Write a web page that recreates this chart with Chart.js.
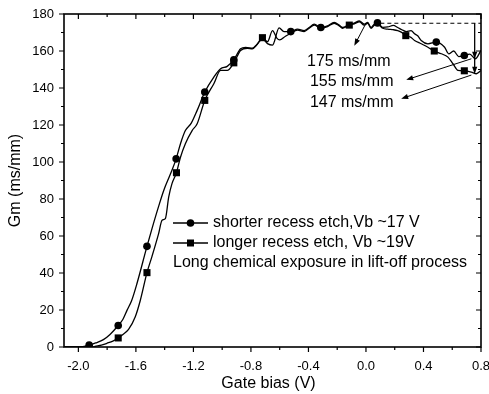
<!DOCTYPE html>
<html>
<head>
<meta charset="utf-8">
<script src="https://cdn.jsdelivr.net/npm/chart.js@4"></script>
<style>
  body { margin: 0; background: #fff; }
  #wrap { width: 489px; height: 394px; }
</style>
</head>
<body>
<div id="wrap"><canvas id="gmChart" width="489" height="394"></canvas></div>
<script>
// shorter recess etch, Vb ~17 V (circle curve)
const shortGate = [-2.1, -2.0, -1.96, -1.925, -1.88, -1.826, -1.78, -1.723, -1.69, -1.662, -1.63, -1.593, -1.523,
  -1.488, -1.442, -1.407, -1.36, -1.32, -1.29, -1.256, -1.215, -1.174, -1.121, -1.058, -1.011, -0.965, -0.919,
  -0.872, -0.837, -0.79, -0.757, -0.72, -0.685, -0.65, -0.604, -0.57, -0.523, -0.476, -0.43, -0.395, -0.36,
  -0.314, -0.267, -0.221, -0.186, -0.163, -0.116, -0.081, -0.046, -0.012, 0.012, 0.035, 0.058, 0.08, 0.117,
  0.152, 0.19, 0.221, 0.25, 0.28, 0.314, 0.338, 0.36, 0.384, 0.431, 0.489, 0.547, 0.575, 0.61, 0.645, 0.684,
  0.722, 0.76, 0.8];
const shortGm = [0, 0, 0.3, 1, 2.2, 4, 6.8, 11.6, 15, 19.8, 25, 34.2, 54.4,
  64, 76, 84.5, 93.5, 101.7, 109.9, 117, 121, 127.9, 137.8, 145.9, 150.4, 151.7, 155.3,
  161.2, 162, 161.5, 163.7, 166.5, 164, 163.2, 172.5, 170.5, 170.5, 171.8, 171, 172.7, 174.5,
  172.7, 173.6, 175.4, 174, 172.7, 174.3, 175.1, 176.3, 174.5, 175.4, 172.7, 174.5, 175.2, 172.8,
  173, 173.8, 172.7, 171.5, 170.5, 171, 169.3, 168.2, 165.7, 163.9, 164.8, 162, 158.5, 160, 157, 157.6,
  158.3, 155.8, 160.3];

// longer recess etch, Vb ~19 V (square curve)
const longGate = [-2.1, -1.9, -1.884, -1.84, -1.802, -1.76, -1.723, -1.69, -1.651, -1.605, -1.57, -1.523,
  -1.488, -1.442, -1.418, -1.395, -1.372, -1.349, -1.318, -1.29, -1.256, -1.209, -1.174, -1.121, -1.058,
  -1.011, -0.965, -0.919, -0.872, -0.825, -0.79, -0.757, -0.72, -0.685, -0.65, -0.62, -0.6, -0.56, -0.523,
  -0.476, -0.43, -0.395, -0.36, -0.314, -0.267, -0.221, -0.186, -0.163, -0.116, -0.081, -0.046, -0.012,
  0.012, 0.035, 0.058, 0.08, 0.117, 0.152, 0.19, 0.221, 0.245, 0.277, 0.31, 0.338, 0.384, 0.431, 0.475,
  0.524, 0.57, 0.605, 0.64, 0.684, 0.733, 0.768, 0.8];
const longGm = [0, 0, 0.3, 1, 2, 3.2, 4.9, 6.8, 9.5, 16.2, 25, 40.2,
  49, 61.3, 68.5, 69.4, 81, 88.3, 94.2, 102.6, 109.9, 117, 120.7, 133.3, 142.3,
  149.5, 149.5, 153.6, 160.3, 161.5, 161.2, 163.5, 167.2, 165, 171, 167, 166, 168, 169.6,
  171.3, 170.5, 172.3, 174, 172.3, 173.2, 175, 173.6, 172.3, 174, 174.7, 175.8, 174,
  175, 172.3, 174, 174.6, 172.3, 171.8, 171.5, 171, 170.2, 168.3, 167.5, 165.7, 163.9, 162, 160,
  158.5, 156.7, 153.1, 149.5, 149.3, 148.6, 147.7, 149.5];

// symbols drawn on the curves
const shortMarkGate = [-1.925, -1.723, -1.523, -1.32, -1.121, -0.919, -0.523, -0.314, 0.08, 0.489, 0.684];
const shortMarkGm = [1, 11.6, 54.4, 101.7, 137.8, 155.3, 170.5, 172.7, 175.2, 164.8, 157.6];
const longMarkGate = [-1.723, -1.523, -1.318, -1.121, -0.919, -0.72, -0.116, 0.277, 0.475, 0.684];
const longMarkGm = [4.9, 40.2, 94.2, 133.3, 153.6, 167.2, 174, 168.3, 160, 149.3];

const xMajor = [-2.0, -1.6, -1.2, -0.8, -0.4, 0.0, 0.4, 0.8];
const xMinor = [-1.8, -1.4, -1.0, -0.6, -0.2, 0.2, 0.6];
const yMajor = [0, 20, 40, 60, 80, 100, 120, 140, 160, 180];
const yMinor = [10, 30, 50, 70, 90, 110, 130, 150, 170];

// annotated values (ms/mm)
const peakGm = 175, shortEndGm = 155, longEndGm = 147;
const legendLabels = ['shorter recess etch,Vb ~17 V', 'longer recess etch, Vb ~19V'];
const legendNote = 'Long chemical exposure in lift-off process';

const FONT = '"Liberation Sans", Arial, sans-serif';
const toPts = (xs, ys) => xs.map((x, i) => ({x: x, y: ys[i]}));

function arrow(ctx, x1, y1, x2, y2) {
  const ang = Math.atan2(y2 - y1, x2 - x1), L = 7, W = 2.6;
  ctx.beginPath();
  ctx.moveTo(x1, y1);
  ctx.lineTo(x2 - Math.cos(ang) * 4, y2 - Math.sin(ang) * 4);
  ctx.stroke();
  ctx.beginPath();
  ctx.moveTo(x2, y2);
  ctx.lineTo(x2 - L * Math.cos(ang) + W * Math.sin(ang), y2 - L * Math.sin(ang) - W * Math.cos(ang));
  ctx.lineTo(x2 - L * Math.cos(ang) - W * Math.sin(ang), y2 - L * Math.sin(ang) + W * Math.cos(ang));
  ctx.closePath();
  ctx.fill();
}

const decor = {
  id: 'decor',
  afterDraw(chart) {
    const ctx = chart.ctx, a = chart.chartArea;
    const xs = chart.scales.x, ys = chart.scales.y;
    const px = v => xs.getPixelForValue(v), py = v => ys.getPixelForValue(v);
    ctx.save();
    ctx.strokeStyle = '#000';
    ctx.fillStyle = '#000';

    // frame
    ctx.lineWidth = 1.6;
    ctx.strokeRect(a.left, a.top, a.right - a.left, a.bottom - a.top);

    // ticks: bottom/left outward, top/right inward
    ctx.lineWidth = 1.2;
    ctx.beginPath();
    const tx = (v, len) => {
      const p = px(v);
      ctx.moveTo(p, a.bottom); ctx.lineTo(p, a.bottom + len);
      ctx.moveTo(p, a.top); ctx.lineTo(p, a.top + len);
    };
    const ty = (v, len) => {
      const p = py(v);
      ctx.moveTo(a.left, p); ctx.lineTo(a.left - len, p);
      ctx.moveTo(a.right, p); ctx.lineTo(a.right - len, p);
    };
    xMajor.forEach(v => tx(v, 5));
    xMinor.forEach(v => tx(v, 3));
    yMajor.forEach(v => ty(v, 5));
    yMinor.forEach(v => ty(v, 3));
    ctx.stroke();

    // axis titles
    ctx.font = '16px ' + FONT;
    ctx.textAlign = 'center';
    ctx.textBaseline = 'middle';
    ctx.fillText('Gate bias (V)', (a.left + a.right) / 2 - 4, 384);
    ctx.save();
    ctx.translate(16, (a.top + a.bottom) / 2);
    ctx.rotate(-Math.PI / 2);
    ctx.fillText('Gm (ms/mm)', 0, 0);
    ctx.restore();

    // legend
    ctx.textAlign = 'left';
    ctx.lineWidth = 1.3;
    const lx = a.left + 109, rows = [a.top + 209, a.top + 229];
    rows.forEach((yy, i) => {
      ctx.beginPath();
      ctx.moveTo(lx, yy); ctx.lineTo(lx + 35, yy);
      ctx.stroke();
      ctx.beginPath();
      if (i === 0) ctx.arc(lx + 17.5, yy, 3.8, 0, Math.PI * 2);
      else ctx.rect(lx + 17.5 - 3.5, yy - 3.5, 7, 7);
      ctx.fill();
      ctx.fillText(legendLabels[i], lx + 40, yy);
    });
    ctx.fillText(legendNote, lx, a.top + 249);

    // annotations
    ctx.lineWidth = 1;
    ctx.setLineDash([4, 3]);
    ctx.beginPath();
    ctx.moveTo(px(0.1), py(peakGm)); ctx.lineTo(a.right, py(peakGm));
    ctx.stroke();
    ctx.setLineDash([]);
    const vx = px(0.756);
    ctx.beginPath();
    ctx.moveTo(vx, py(peakGm)); ctx.lineTo(vx, py(longEndGm + 0.7));
    ctx.stroke();
    arrow(ctx, vx, py(peakGm), vx, py(shortEndGm + 0.8));
    arrow(ctx, vx, py(shortEndGm + 2), vx, py(longEndGm + 0.7));
    arrow(ctx, px(0.0), py(peakGm), px(-0.081), py(162.9));
    arrow(ctx, px(0.733), py(155.8), px(0.28), py(144.4));
    arrow(ctx, px(0.733), py(147), px(0.245), py(134.2));

    ctx.font = '16px ' + FONT;
    ctx.fillText(peakGm + ' ms/mm', px(-0.41), py(154.3));
    ctx.fillText(shortEndGm + ' ms/mm', px(-0.39), py(143.2));
    ctx.fillText(longEndGm + ' ms/mm', px(-0.39), py(131.9));
    ctx.restore();
  }
};

new Chart(document.getElementById('gmChart'), {
  type: 'line',
  data: {
    datasets: [
      {data: toPts(shortGate, shortGm), borderColor: '#000', borderWidth: 1.3, pointRadius: 0,
       cubicInterpolationMode: 'monotone', fill: false},
      {data: toPts(longGate, longGm), borderColor: '#000', borderWidth: 1.3, pointRadius: 0,
       cubicInterpolationMode: 'monotone', fill: false},
      {data: toPts(shortMarkGate, shortMarkGm), showLine: false, pointStyle: 'circle', pointRadius: 3.8,
       pointBackgroundColor: '#000', pointBorderColor: '#000', pointBorderWidth: 0},
      {data: toPts(longMarkGate, longMarkGm), showLine: false, pointStyle: 'rect', pointRadius: 5,
       pointBackgroundColor: '#000', pointBorderColor: '#000', pointBorderWidth: 0}
    ]
  },
  options: {
    responsive: false,
    animation: false,
    layout: {padding: {left: 0, top: 14, right: 8, bottom: 0}},
    plugins: {legend: {display: false}, tooltip: {enabled: false}},
    scales: {
      x: {
        type: 'linear', min: -2.1, max: 0.8,
        grid: {display: false, drawTicks: false}, border: {display: false},
        afterBuildTicks: s => { s.ticks = xMajor.map(v => ({value: v})); },
        afterFit: s => { s.height = 47; s.paddingLeft = 0; s.paddingRight = 0; },
        ticks: {padding: 12, color: '#000', font: {family: FONT, size: 13},
          callback: v => Number(v).toFixed(1)}
      },
      y: {
        type: 'linear', min: 0, max: 180,
        grid: {display: false, drawTicks: false}, border: {display: false},
        afterFit: s => { s.width = 64; s.paddingTop = 0; s.paddingBottom = 0; },
        ticks: {stepSize: 20, padding: 10, color: '#000', font: {family: FONT, size: 13}}
      }
    }
  },
  plugins: [decor]
});
</script>
</body>
</html>
